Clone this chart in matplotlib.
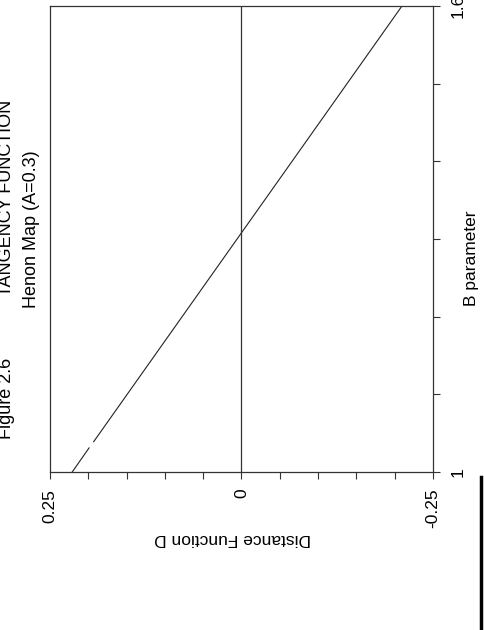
import numpy as np
import matplotlib
matplotlib.use("Agg")
import matplotlib.pyplot as plt
from matplotlib.lines import Line2D

plt.rcParams['font.family'] = ['Liberation Sans', 'DejaVu Sans']

# Data (B parameter vs distance function D); NaN marks a small break in the trace
b_param = [1.0, 1.031, np.nan, 1.039, 1.2, 1.4, 1.6]
dist_d = [0.221, 0.199, np.nan, 0.193, 0.0775, -0.066, -0.2095]

d_major = [0.25, 0.0, -0.25]
d_major_labels = ["0.25", "0", "-0.25"]
d_minor = [0.2, 0.15, 0.1, 0.05, -0.05, -0.1, -0.15, -0.2]
b_ticks = [1.0, 1.1, 1.2, 1.3, 1.4, 1.5, 1.6]
b_tick_labels = ["1", "", "", "", "", "", "1.6"]

W, H = 485, 630
fig = plt.figure(figsize=(W / 100, H / 100), dpi=100)
fig.patch.set_facecolor('white')

left, right, bottom, top = 50, 433, 472, 6
ax = fig.add_axes([left / W, 1 - bottom / H, (right - left) / W, (bottom - top) / H])

ax.plot(dist_d, b_param, color='#222222', lw=0.8)
ax.axvline(0, color='#333333', lw=0.9)

ax.set_xlim(0.25, -0.25)
ax.set_ylim(1.0, 1.6)

for s in ax.spines.values():
    s.set_linewidth(0.9)
    s.set_color('#333333')

ax.set_xticks(d_major)
ax.set_xticklabels(d_major_labels, rotation=90, fontsize=12.5)
ax.set_xticks(d_minor, minor=True)
ax.tick_params(axis='x', which='both', direction='out', length=5, width=0.8,
               pad=7, colors='#333333', labelcolor='black')

ax.yaxis.tick_right()
ax.set_yticks(b_ticks)
ax.set_yticklabels(b_tick_labels, rotation=90, va='center', fontsize=12.5)
ax.tick_params(axis='y', which='both', direction='out', length=5, width=0.8,
               pad=8, colors='#333333', labelcolor='black')

# Titles (rotated like the scanned page)
fig.text(7 / W, 1 - 100 / H, "TANGENCY FUNCTION", rotation=90, ha='center', va='top', fontsize=13)
fig.text(7 / W, 1 - 439 / H, "Figure 2.6", rotation=90, ha='center', va='bottom', fontsize=13)
fig.text(32 / W, 1 - 150 / H, "Henon Map (A=0.3)", rotation=90, ha='center', va='top', fontsize=13)

# Axis titles
fig.text(233 / W, 1 - 538 / H, "Distance Function D", rotation=180, ha='center', va='center', fontsize=12.5)
fig.text(472 / W, 1 - 258 / H, "B parameter", rotation=90, ha='center', va='center', fontsize=12.5)

# scan edge artifact
fig.add_artist(Line2D([481 / W, 481 / W], [0, 1 - 477 / H], color='black', lw=2.5))

fig.savefig("out.png", dpi=100, facecolor='white')
